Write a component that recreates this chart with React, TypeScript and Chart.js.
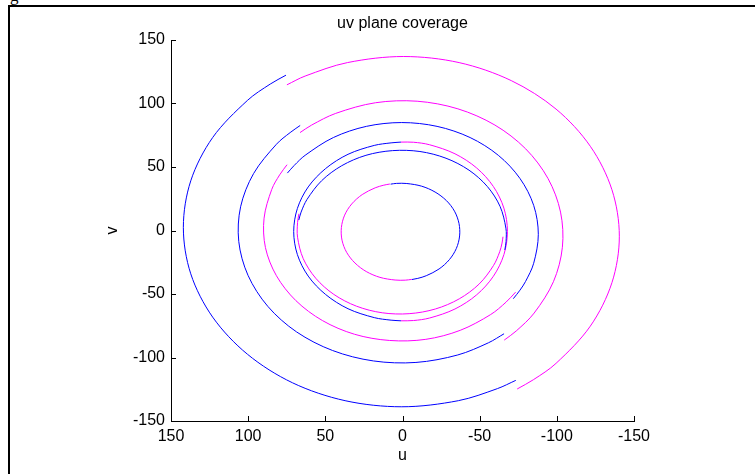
import React, { useEffect, useRef } from "react";
import { Chart, registerables } from "chart.js";

Chart.register(...registerables);

// ---- data (u, v) ----
// Track 1 (outermost ring)
const blueTrack1: [number, number][] = [
  [75.5, 122.3], [85.7, 115.3], [100.5, 102.4], [123.0, 73.2], [137.2, 39.1], [142.0, 2.5],
  [137.2, -34.1], [123.0, -68.2], [100.5, -97.4], [71.3, -119.9], [37.2, -134.0], [0.5, -138.8],
  [-36.2, -134.0], [-61.5, -124.5], [-73.4, -118.0],
];
const magentaTrack1: [number, number][] = [
  [74.9, 114.7], [63.1, 121.6], [35.7, 132.2], [-0.5, 137.0], [-36.7, 132.2], [-70.5, 118.0],
  [-99.5, 95.6], [-121.7, 66.3], [-135.7, 32.1], [-140.5, -4.5], [-135.7, -41.1],
  [-121.7, -75.3], [-99.5, -104.6], [-84.8, -117.5], [-74.3, -124.8],
];
// Track 2
const blueTrack2: [number, number][] = [
  [66.3, 82.7], [72.8, 77.1], [81.7, 67.9], [96.5, 44.8], [104.9, 18.7], [106.1, -8.6],
  [100.1, -35.3], [87.3, -59.7], [68.7, -79.8], [45.3, -94.5], [18.9, -102.7], [-8.7, -103.9],
  [-35.8, -98.0], [-55.7, -88.4], [-65.8, -81.3],
];
const magentaTrack2: [number, number][] = [
  [66.4, 77.1], [58.9, 83.0], [43.3, 92.2], [17.5, 100.6], [-9.5, 101.8], [-35.9, 95.8],
  [-59.9, 83.0], [-79.8, 64.3], [-94.3, 40.9], [-102.4, 14.5], [-103.6, -13.2],
  [-97.8, -40.3], [-85.3, -65.0], [-73.7, -79.1], [-65.9, -86.3],
];
// Track 3
const blueTrack3: [number, number][] = [
  [74.6, 45.2], [70.2, 51.2], [63.1, 59.2], [44.8, 73.2], [23.4, 82.0], [0.5, 85.0],
  [-22.4, 82.0], [-43.8, 73.2], [-62.1, 59.2], [-76.1, 41.0], [-85.0, 19.8], [-88.0, -3.0],
  [-85.0, -25.8], [-79.7, -40.2], [-76.1, -47.0], [-71.8, -53.7],
];
const magentaTrack3: [number, number][] = [
  [74.8, 51.8], [79.6, 43.8], [84.7, 32.4], [89.7, 9.7], [88.8, -13.5], [81.7, -35.6],
  [69.1, -55.2], [51.9, -70.9], [31.1, -81.7], [8.3, -86.6], [-15.1, -85.7], [-37.4, -78.6],
  [-57.1, -66.2], [-67.1, -56.4], [-73.3, -48.5],
];
// Track 4 (outer of the two middle rings)
const blueTrack4: [number, number][] = [
  [1.0, 69.6], [7.4, 69.0], [18.3, 67.0], [35.3, 60.0], [49.8, 48.8], [61.1, 34.3],
  [68.1, 17.4], [70.5, -0.8], [68.1, -19.0], [61.1, -35.9], [49.8, -50.4], [35.3, -61.6],
  [18.3, -68.6], [7.4, -70.6], [1.0, -71.1],
];
const magentaTrack4: [number, number][] = [
  [1.0, 69.6], [-7.1, 69.5], [-17.6, 67.5], [-34.0, 60.4], [-48.1, 49.2], [-58.9, 34.6],
  [-65.7, 17.6], [-68.0, -0.7], [-65.7, -19.0], [-58.9, -36.0], [-48.1, -50.6],
  [-34.0, -61.8], [-17.6, -68.9], [-7.1, -70.9], [1.0, -71.1],
];
// Track 5 (inner of the two middle rings)
const blueTrack5: [number, number][] = [
  [67.2, 8.2], [65.7, 14.5], [61.9, 24.4], [52.4, 39.2], [39.4, 51.0], [23.7, 59.2],
  [6.4, 62.9], [-11.3, 62.2], [-28.2, 56.9], [-43.1, 47.5], [-55.0, 34.6], [-63.2, 19.0],
  [-67.0, 1.8], [-67.1, -8.7], [-66.3, -15.3],
];
const magentaTrack5: [number, number][] = [
  [67.1, 13.2], [68.0, 6.3], [68.0, -5.3], [64.3, -22.2], [56.2, -37.6], [44.5, -50.3],
  [29.8, -59.6], [13.1, -64.8], [-4.3, -65.5], [-21.3, -61.8], [-36.8, -53.8],
  [-49.7, -42.1], [-59.0, -27.5], [-63.0, -16.7], [-64.5, -9.9], [-65.1, -4.9],
];
// Track 6 (innermost ring)
const blueTrack6: [number, number][] = [
  [7.7, 36.5], [3.8, 37.1], [-2.8, 37.0], [-12.4, 34.9], [-21.1, 30.3], [-28.4, 23.6],
  [-33.7, 15.2], [-36.6, 5.6], [-37.0, -4.3], [-34.9, -14.1], [-30.4, -22.9],
  [-23.7, -30.3], [-15.4, -35.6], [-9.9, -37.7], [-6.1, -38.6],
];
const magentaTrack6: [number, number][] = [
  [8.2, 36.6], [12.1, 35.7], [17.7, 33.6], [26.1, 28.3], [32.9, 20.9], [37.5, 12.1],
  [39.6, 2.3], [39.2, -7.6], [36.2, -17.2], [30.8, -25.6], [23.5, -32.3], [14.6, -36.9],
  [4.8, -39.0], [-1.8, -39.1], [-6.0, -38.5],
];

const blueTracks = [blueTrack1, blueTrack2, blueTrack3, blueTrack4, blueTrack5, blueTrack6];
const magentaTracks = [magentaTrack1, magentaTrack2, magentaTrack3, magentaTrack4, magentaTrack5, magentaTrack6];

const axisTicks = [-150, -100, -50, 0, 50, 100, 150];
const chartTitle = "uv plane coverage";
const xTitle = "u";
const yTitle = "v";

const BLUE = "rgb(0,0,255)";
const MAGENTA = "rgb(255,0,255)";
const FONT = "'Liberation Sans', Arial, Helvetica, sans-serif";

const inwardTicks = {
  id: "inwardTicks",
  afterDraw(chart: any) {
    const { ctx, chartArea } = chart;
    const xs = chart.scales.x;
    const ys = chart.scales.y;
    ctx.save();
    ctx.strokeStyle = "#000";
    ctx.lineWidth = 1;
    ctx.beginPath();
    xs.ticks.forEach((t: any) => {
      const px = Math.round(xs.getPixelForValue(t.value)) + 0.5;
      ctx.moveTo(px, chartArea.bottom);
      ctx.lineTo(px, chartArea.bottom - 5);
    });
    ys.ticks.forEach((t: any) => {
      const py = Math.round(ys.getPixelForValue(t.value)) + 0.5;
      ctx.moveTo(chartArea.left, py);
      ctx.lineTo(chartArea.left + 5, py);
    });
    ctx.stroke();
    ctx.restore();
  },
};

export default function App() {
  const ref = useRef<HTMLCanvasElement | null>(null);

  useEffect(() => {
    if (!ref.current) return;
    const toPts = (arr: [number, number][]) => arr.map(([x, y]) => ({ x, y }));
    const datasets: any[] = [];
    blueTracks.forEach((t) => datasets.push({ data: toPts(t), borderColor: BLUE }));
    magentaTracks.forEach((t) => datasets.push({ data: toPts(t), borderColor: MAGENTA }));
    datasets.forEach((d) => {
      d.showLine = true;
      d.pointRadius = 0;
      d.borderWidth = 1;
      d.tension = 0.33;
      d.fill = false;
    });

    const chart = new Chart(ref.current, {
      type: "scatter",
      data: { datasets },
      plugins: [inwardTicks],
      options: {
        animation: false,
        responsive: false,
        devicePixelRatio: 1,
        layout: { padding: { left: 103, right: 121, top: 0, bottom: 0 } },
        plugins: {
          legend: { display: false },
          tooltip: { enabled: false },
          title: {
            display: true,
            fullSize: false,
            text: chartTitle,
            color: "#000",
            font: { family: FONT, size: 16, weight: "normal" },
            padding: { top: 14, bottom: 6.8 },
          },
        },
        scales: {
          x: {
            type: "linear",
            reverse: true,
            min: -150,
            max: 150,
            afterBuildTicks: (s: any) => {
              s.ticks = axisTicks.map((v) => ({ value: v }));
            },
            afterFit: (s: any) => {
              s.height = 53;
            },
            grid: { display: false, drawTicks: false },
            border: { display: true, color: "#000", width: 1 },
            ticks: {
              color: "#000",
              padding: 6,
              maxRotation: 0,
              font: { family: FONT, size: 16 },
              callback: (v: any) => String(v),
            },
            title: {
              display: true,
              text: xTitle,
              color: "#000",
              font: { family: FONT, size: 16 },
              padding: { top: 0, bottom: 9 },
            },
          },
          y: {
            type: "linear",
            min: -150,
            max: 150,
            afterBuildTicks: (s: any) => {
              s.ticks = axisTicks.map((v) => ({ value: v }));
            },
            afterFit: (s: any) => {
              s.width = 68;
            },
            grid: { display: false, drawTicks: false },
            border: { display: true, color: "#000", width: 1 },
            ticks: {
              color: "#000",
              padding: 6,
              font: { family: FONT, size: 16 },
              callback: (v: any) => String(v),
            },
            title: {
              display: true,
              text: yTitle,
              color: "#000",
              font: { family: FONT, size: 16 },
              padding: { top: 0, bottom: 0 },
            },
          },
        },
      },
    } as any);
    return () => chart.destroy();
  }, []);

  return (
    <div
      style={{
        position: "absolute",
        left: 0,
        top: 0,
        width: 755,
        height: 474,
        overflow: "hidden",
        background: "#fff",
      }}
    >
      <div
        style={{
          position: "absolute",
          left: 10,
          top: -13,
          fontFamily: "'Liberation Serif', 'Times New Roman', serif",
          fontSize: 17,
          lineHeight: "17px",
          color: "#000",
        }}
      >
        g
      </div>
      <div
        style={{
          position: "absolute",
          left: 8,
          top: 5,
          width: 760,
          height: 480,
          borderTop: "2px solid #000",
          borderLeft: "2px solid #000",
        }}
      />
      <canvas
        ref={ref}
        width={755}
        height={474}
        style={{ position: "absolute", left: 0, top: 0, width: 755, height: 474 }}
      />
    </div>
  );
}
